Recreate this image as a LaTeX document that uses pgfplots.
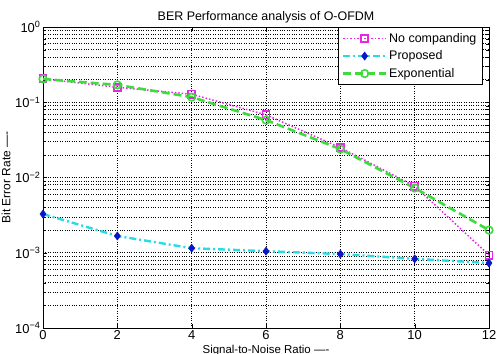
\documentclass[border=0pt]{standalone}
\usepackage{pgfplots}
\pgfplotsset{compat=1.18}
\usepackage{fontspec}
\setmainfont{Liberation Sans}

\definecolor{ncmag}{RGB}{230,40,230}
\definecolor{prcyan}{RGB}{40,220,230}
\definecolor{prblue}{RGB}{10,20,200}
\definecolor{exgreen}{RGB}{60,220,60}

\begin{document}
\begin{tikzpicture}
\useasboundingbox (-43bp,-26bp) rectangle (454bp,328bp);
\clip (-43bp,-26bp) rectangle (454bp,328bp);
\begin{axis}[
  scale only axis,
  width=446bp, height=301bp,
  at={(0,0)}, anchor=south west,
  ymode=log,
  xmin=0, xmax=12, ymin=1e-4, ymax=1,
  xtick={0,2,4,6,8,10,12},
  xticklabels={0,2,4,6,8,10,12},
  ytick={1e-4,1e-3,1e-2,1e-1,1},
  yticklabels={10\textsuperscript{−4},10\textsuperscript{−3},10\textsuperscript{−2},10\textsuperscript{−1},10\textsuperscript{0}},
  grid=both,
  major grid style={black, dotted, line width=0.6pt},
  minor grid style={black, dotted, line width=0.6pt},
  tick style={black},
  axis line style={black, line width=0.8pt},
  tick align=inside,
  font=\fontsize{12.5}{14}\selectfont,
  tick label style={font=\fontsize{13}{14}\selectfont},
  yticklabel style={xshift=1pt},
  xticklabel style={yshift=1pt},
  title={BER Performance analysis of O-OFDM},
  title style={font=\fontsize{12.5}{14}\selectfont, yshift=-6pt},
  xlabel={Signal-to-Noise Ratio ----},
  ylabel={Bit Error Rate ----},
  xlabel style={font=\fontsize{11.5}{13}\selectfont, at={(axis description cs:0.5,0)},
    anchor=base, yshift=-25bp},
  ylabel style={font=\fontsize{12}{14}\selectfont, yshift=-2pt},
  legend style={font=\fontsize{12.5}{14}\selectfont, draw=black, line width=0.7pt,
    at={(0.986,1)}, anchor=north east, row sep=3pt, inner sep=4pt,
    nodes={inner sep=2pt}},
  legend cell align=left,
  legend image code/.code={
    \draw[mark repeat=2,mark phase=2] plot coordinates {(0cm,0cm) (0.75cm,0cm) (1.5cm,0cm)};
  },
]
\addplot[ncmag, dotted, line width=1.5pt,
  mark=square, mark size=3.6pt, mark options={solid, line width=1.8pt}]
  coordinates {(0,0.205) (2,0.158) (4,0.128) (6,0.068) (8,0.025) (10,0.0077) (12,0.00093)};
\addlegendentry{No companding}
\addplot[prcyan, dash pattern=on 7pt off 3pt on 2pt off 3pt, line width=2.4pt,
  mark=diamond*, mark size=4pt, mark options={solid, draw=prblue, fill=prblue, line width=0.6pt}]
  coordinates {(0,0.00327) (2,0.00167) (4,0.00115) (6,0.00105) (8,0.00096) (10,0.00083) (12,0.00073)};
\addlegendentry{Proposed}
\addplot[exgreen, dash pattern=on 8pt off 4pt, line width=2.6pt,
  mark=o, mark size=3.8pt, mark options={solid, line width=1.6pt}]
  coordinates {(0,0.204) (2,0.17) (4,0.117) (6,0.058) (8,0.0239) (10,0.00725) (12,0.0020)};
\addlegendentry{Exponential}
\end{axis}
\end{tikzpicture}
\end{document}
